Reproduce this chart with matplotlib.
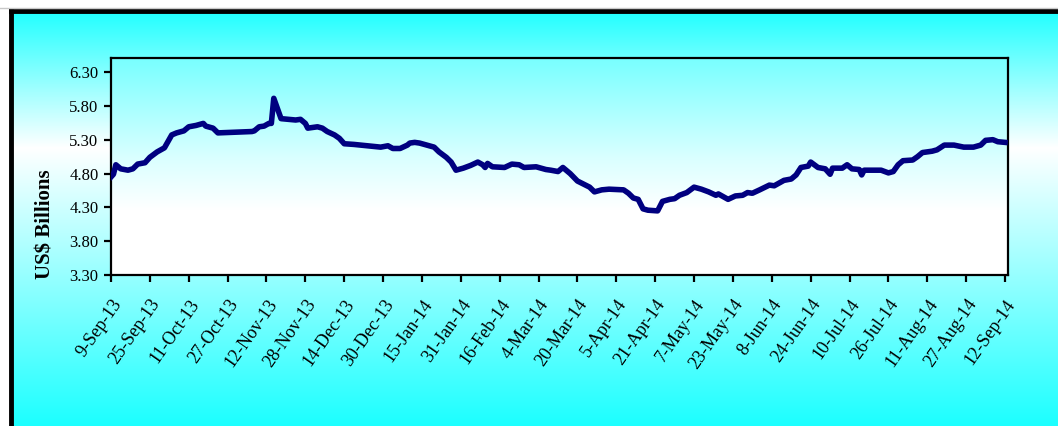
import numpy as np
import pandas as pd
import matplotlib
matplotlib.use("Agg")
import matplotlib.pyplot as plt
from matplotlib.colors import LinearSegmentedColormap
from matplotlib.lines import Line2D

# Reserve level (US$ billions)
dates = [
    "2013-09-09", "2013-09-10", "2013-09-11", "2013-09-13", "2013-09-16", "2013-09-18",
    "2013-09-20", "2013-09-23", "2013-09-25", "2013-09-28", "2013-10-01", "2013-10-04",
    "2013-10-06", "2013-10-09", "2013-10-11", "2013-10-14", "2013-10-17", "2013-10-18",
    "2013-10-21", "2013-10-23", "2013-11-06", "2013-11-07", "2013-11-09", "2013-11-11",
    "2013-11-13", "2013-11-14", "2013-11-15", "2013-11-18", "2013-11-21", "2013-11-24",
    "2013-11-26", "2013-11-28", "2013-11-29", "2013-12-03", "2013-12-05", "2013-12-07",
    "2013-12-10", "2013-12-12", "2013-12-14", "2013-12-18", "2013-12-29", "2014-01-01",
    "2014-01-03", "2014-01-06", "2014-01-09", "2014-01-10", "2014-01-12", "2014-01-14",
    "2014-01-16", "2014-01-20", "2014-01-22", "2014-01-25", "2014-01-27", "2014-01-29",
    "2014-02-01", "2014-02-04", "2014-02-07", "2014-02-09", "2014-02-10", "2014-02-11",
    "2014-02-13", "2014-02-18", "2014-02-21", "2014-02-24", "2014-02-26", "2014-03-03",
    "2014-03-05", "2014-03-07", "2014-03-09", "2014-03-12", "2014-03-14", "2014-03-17",
    "2014-03-20", "2014-03-25", "2014-03-27", "2014-03-30", "2014-04-02", "2014-04-08",
    "2014-04-10", "2014-04-12", "2014-04-14", "2014-04-16", "2014-04-18", "2014-04-22",
    "2014-04-24", "2014-04-27", "2014-04-29", "2014-05-01", "2014-05-04", "2014-05-07",
    "2014-05-10", "2014-05-13", "2014-05-16", "2014-05-17", "2014-05-19", "2014-05-21",
    "2014-05-24", "2014-05-27", "2014-05-29", "2014-05-31", "2014-06-03", "2014-06-07",
    "2014-06-09", "2014-06-13", "2014-06-16", "2014-06-18", "2014-06-20", "2014-06-23",
    "2014-06-24", "2014-06-27", "2014-06-30", "2014-07-02", "2014-07-03", "2014-07-07",
    "2014-07-09", "2014-07-11", "2014-07-14", "2014-07-15", "2014-07-16", "2014-07-23",
    "2014-07-26", "2014-07-28", "2014-07-30", "2014-08-01", "2014-08-05", "2014-08-07",
    "2014-08-09", "2014-08-13", "2014-08-15", "2014-08-18", "2014-08-22", "2014-08-26",
    "2014-08-30", "2014-09-02", "2014-09-04", "2014-09-07", "2014-09-09", "2014-09-12",
]
reserves = [
    4.75, 4.79, 4.93, 4.87, 4.85, 4.87,
    4.94, 4.96, 5.04, 5.12, 5.18, 5.37,
    5.40, 5.43, 5.49, 5.51, 5.54, 5.50,
    5.47, 5.40, 5.42, 5.43, 5.49, 5.50,
    5.54, 5.54, 5.91, 5.61, 5.60, 5.59,
    5.60, 5.54, 5.47, 5.49, 5.47, 5.42,
    5.37, 5.32, 5.24, 5.23, 5.19, 5.21,
    5.17, 5.17, 5.22, 5.25, 5.26, 5.25,
    5.23, 5.19, 5.12, 5.04, 4.97, 4.85,
    4.88, 4.92, 4.97, 4.93, 4.89, 4.95,
    4.90, 4.89, 4.94, 4.93, 4.89, 4.90,
    4.88, 4.86, 4.85, 4.83, 4.89, 4.80,
    4.69, 4.60, 4.53, 4.56, 4.57, 4.56,
    4.51, 4.44, 4.42, 4.28, 4.26, 4.25,
    4.39, 4.42, 4.43, 4.48, 4.52, 4.60,
    4.57, 4.53, 4.48, 4.50, 4.46, 4.42,
    4.47, 4.48, 4.52, 4.51, 4.56, 4.63,
    4.62, 4.70, 4.72, 4.78, 4.89, 4.91,
    4.97, 4.89, 4.87, 4.79, 4.88, 4.88,
    4.93, 4.87, 4.86, 4.78, 4.85, 4.85,
    4.81, 4.83, 4.93, 4.99, 5.00, 5.05,
    5.11, 5.13, 5.15, 5.22, 5.22, 5.19,
    5.19, 5.22, 5.29, 5.30, 5.27, 5.26,
]
y_ticks = [3.30, 3.80, 4.30, 4.80, 5.30, 5.80, 6.30]

dates = pd.to_datetime(dates)
tick_dates = pd.date_range("2013-09-09", "2014-09-12", freq="16D")
tick_labels = [f"{d.day}-{d.strftime('%b-%y')}" for d in tick_dates]

W, H = 1058, 426
fig = plt.figure(figsize=(W / 100, H / 100), dpi=100)
fig.patch.set_facecolor("white")

# outer panel gradient: cyan -> white -> cyan
bg = fig.add_axes([10 / W, 0, 1 - 10 / W, 1 - 11 / H], zorder=0)
cmap_bg = LinearSegmentedColormap.from_list(
    "bg", [(0.0, "#22ffff"), (0.33, "#ffffff"), (1.0, "#1cffff")])
grad = np.linspace(0, 1, 256)[:, None]
bg.imshow(grad, aspect="auto", cmap=cmap_bg, extent=[0, 1, 0, 1])
bg.axis("off")

# black frame on left and top
fig.add_artist(Line2D([10.5 / W, 10.5 / W], [0, 1 - 10.5 / H], color="black", lw=3.5,
                      transform=fig.transFigure))
fig.add_artist(Line2D([10.5 / W, 1], [1 - 10.5 / H, 1 - 10.5 / H], color="black", lw=3.5,
                      transform=fig.transFigure))
fig.add_artist(Line2D([0, 1], [1 - 8 / H, 1 - 8 / H], color="#c8c8c8", lw=1,
                      transform=fig.transFigure))

ax = fig.add_axes([111 / W, 1 - 275.3 / H, (1007.7 - 111) / W, (275.3 - 58.3) / H], zorder=1)
cmap_ax = LinearSegmentedColormap.from_list(
    "ax", [(0.0, "#ffffff"), (0.3, "#ffffff"), (0.55, "#d8ffff"), (1.0, "#78ffff")])
ax.imshow(np.linspace(0, 1, 256)[:, None], aspect="auto", cmap=cmap_ax, origin="lower",
          extent=[0, 1, 0, 1], transform=ax.transAxes, zorder=0)

ax.plot(dates, reserves, color="#000080", lw=4.0, solid_joinstyle="round", zorder=3)

ax.set_xlim(tick_dates[0], tick_dates[-1] + pd.Timedelta(days=1.1))
ax.set_ylim(3.3, 6.5)
ax.set_yticks(y_ticks)
ax.set_yticklabels([f"{v:.2f}" for v in y_ticks])
ax.set_xticks(tick_dates)
ax.set_xticklabels(tick_labels, rotation=55, ha="right", va="top", rotation_mode="anchor")

for s in ax.spines.values():
    s.set_linewidth(1.6)
    s.set_color("black")
ax.tick_params(axis="both", direction="out", length=5, width=1.6, colors="black")
ax.tick_params(axis="x", pad=10)
ax.tick_params(axis="y", pad=4)
for lab in ax.get_yticklabels():
    lab.set_fontfamily("Liberation Serif")
    lab.set_fontsize(12)
for lab in ax.get_xticklabels():
    lab.set_fontfamily("Liberation Serif")
    lab.set_fontsize(13)

fig.text(45 / W, 1 - 224 / H, "US$ Billions", rotation=90, ha="center", va="center",
         fontsize=15, fontweight="bold", family="Liberation Serif")

fig.savefig("out.png", dpi=100)
